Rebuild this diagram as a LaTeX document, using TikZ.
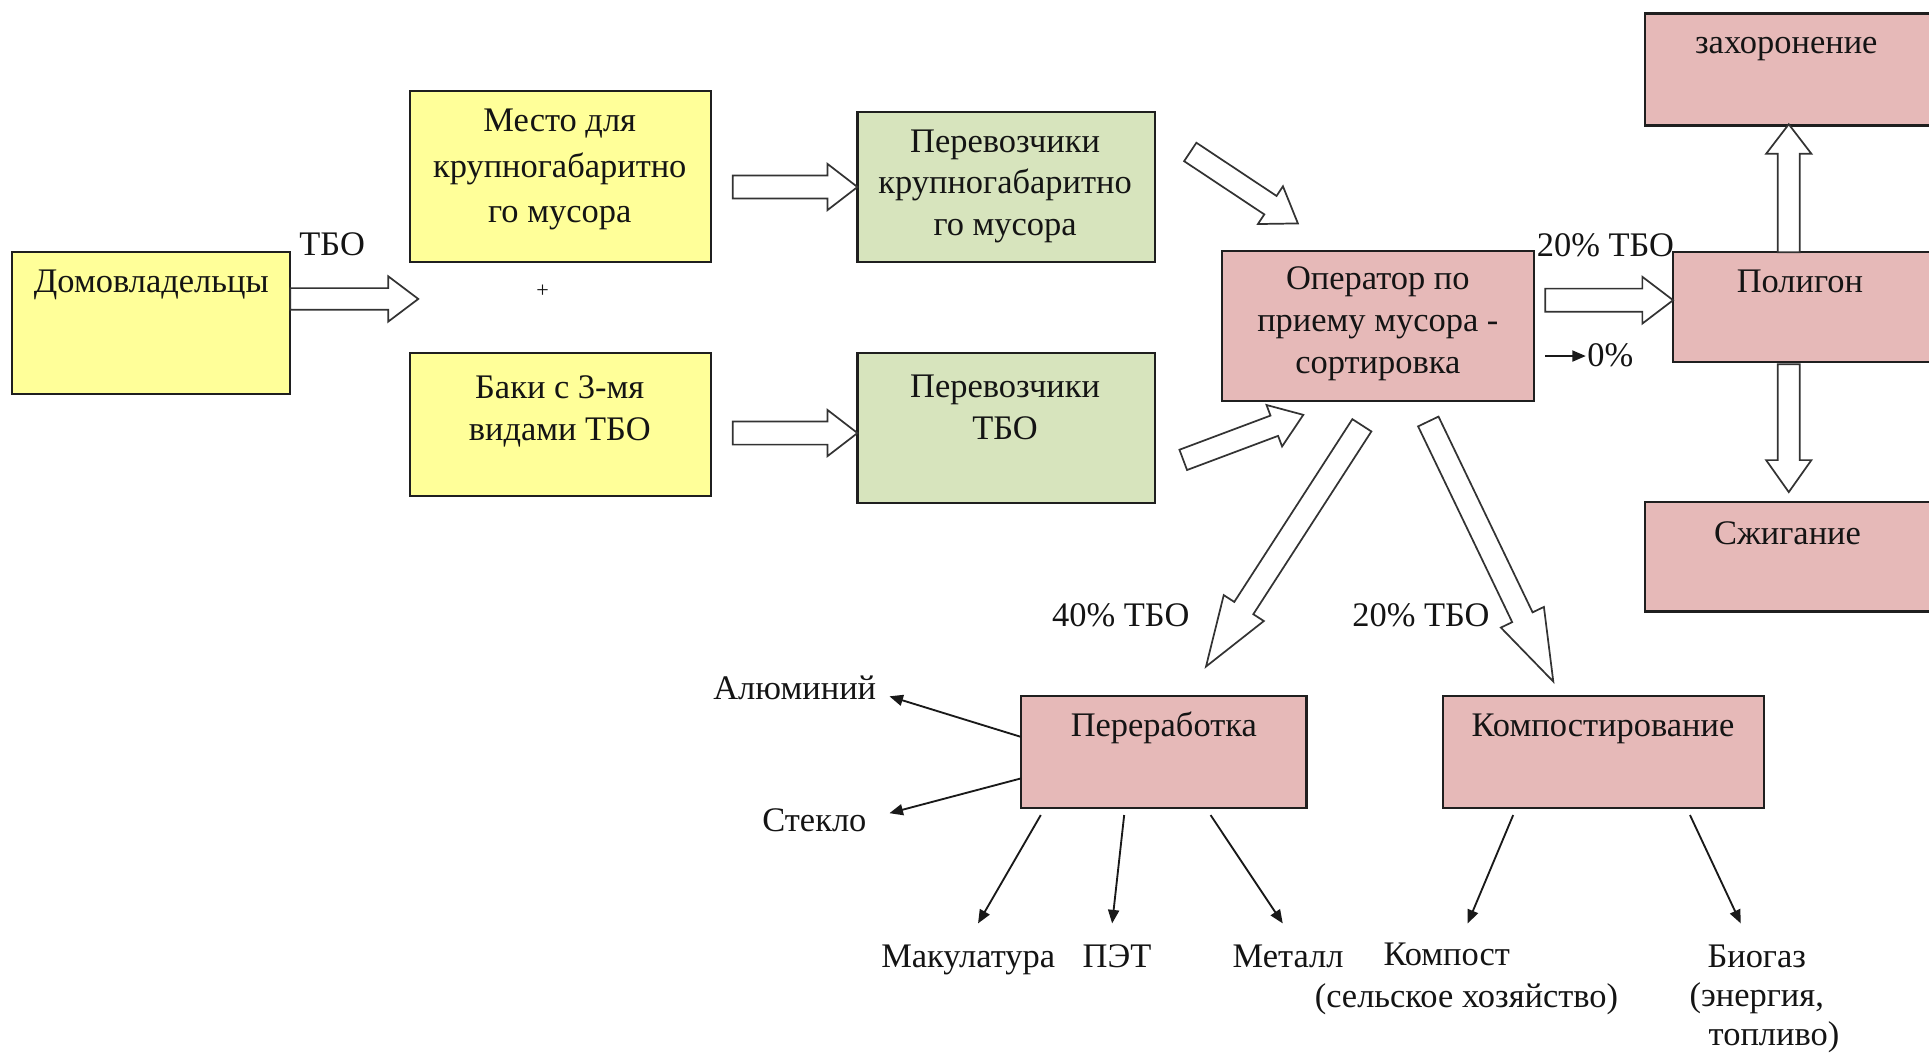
\documentclass[tikz,border=0pt]{standalone}
\usepackage{fontspec}
\setmainfont{Liberation Serif}
\usetikzlibrary{calc,arrows.meta}
\definecolor{yel}{HTML}{FFFF99}
\definecolor{grn}{HTML}{D7E4BD}
\definecolor{pnk}{HTML}{E6B9B8}
\newcommand\bx[6]{\node[boxst, fill=#6, minimum width={(#4-#2)*0.5pt}, minimum height={(#5-#3)*0.5pt}] (#1) at ({(#2+#4)/2},{(#3+#5)/2}) {};}
% tail, tip, half shaft width, half head width, head length
\newcommand\blockarrow[5]{%
  \coordinate (ba-h) at ($(#2)!#5!(#1)$);
  \draw[blockarr] ($(#1)!#3!90:(#2)$) -- ($(ba-h)!#3!90:(#2)$) -- ($(ba-h)!#4!90:(#2)$) -- (#2)
    -- ($(ba-h)!#4!-90:(#2)$) -- ($(ba-h)!#3!-90:(#2)$) -- ($(#1)!#3!-90:(#2)$) -- cycle;}
\begin{document}
\begin{tikzpicture}[x=0.5pt,y=-0.5pt,
  boxst/.style={draw=black!88, line width=0.9pt, inner sep=0pt, outer sep=0pt},
  txt/.style={font=\fontsize{14}{17}\selectfont, align=center, inner sep=0pt, text=black!92},
  one/.style={txt, text height=10pt, text depth=3.5pt},
  blockarr/.style={draw=black!80, fill=white, line width=0.7pt, line join=miter},
  thinarr/.style={draw=black!90, line width=0.75pt, -{Triangle[length=5.5pt,width=4.5pt]}}]
\useasboundingbox (0,0) rectangle (1568,858);
\clip (0,0) rectangle (1568,858);
\fill[white] (0,0) rectangle (1568,858);

% boxes
\bx{dom}{10}{205}{236}{320}{yel}
\bx{mesto}{333}{74}{578}{213}{yel}
\bx{baki}{333}{287}{578}{403}{yel}
\bx{perkg}{697}{91}{939}{213}{grn}
\bx{pertbo}{697}{287}{939}{409}{grn}
\bx{oper}{993}{204}{1247}{326}{pnk}
\bx{polig}{1360}{205}{1585}{294}{pnk}
\bx{zah}{1337}{11}{1585}{102}{pnk}
\bx{szh}{1337}{408}{1585}{497}{pnk}
\bx{pererab}{830}{566}{1062}{657}{pnk}
\bx{komp}{1173}{566}{1434}{657}{pnk}

% texts
\node[one] (t-dom) at (123,231) {Домовладельцы};
\node[one] (t-tbo1) at (270,201) {ТБО};
\node[txt, font=\fontsize{14}{18.5}\selectfont] (t-mesto) at (455,138) {Место для\\крупногабаритно\\го мусора};
\node[txt, font=\fontsize{9}{9}\selectfont] (t-plus) at (441,237) {+};
\node[txt] (t-baki) at (455,334.5) {Баки с 3-мя\\видами ТБО};
\node[txt] (t-perkg) at (817,151.5) {Перевозчики\\крупногабаритно\\го мусора};
\node[txt] (t-pertbo) at (817,331) {Перевозчики\\ТБО};
\node[txt] (t-oper) at (1120,263) {Оператор по\\приему мусора -\\сортировка};
\node[one] (t-20a) at (1305,202) {20\% ТБО};
\node[one] (t-0) at (1309,291) {0\%};
\node[one] (t-polig) at (1463,231) {Полигон};
\node[one] (t-zah) at (1452,37) {захоронение};
\node[one] (t-szh) at (1453,436) {Сжигание};
\node[one] (t-40) at (911,503) {40\% ТБО};
\node[one] (t-20b) at (1155,503) {20\% ТБО};
\node[one] (t-pererab) at (946,592) {Переработка};
\node[one] (t-komp) at (1303,592) {Компостирование};
\node[one] (t-alu) at (646,562) {Алюминий};
\node[one] (t-stek) at (662,669) {Стекло};
\node[one] (t-mak) at (787,780) {Макулатура};
\node[one] (t-pet) at (908,780) {ПЭТ};
\node[one] (t-met) at (1047,780) {Металл};
\node[txt] (t-kompost) at (1192,796) {Компост\kern16pt\\(сельское хозяйство)};
\node[txt, font=\fontsize{14}{16}\selectfont] (t-bio) at (1428,812) {Биогаз\\(энергия,\\\kern14pt топливо)};

% block arrow end points
\coordinate (a1t) at (236,243);   \coordinate (a1p) at (340,243);
\coordinate (a2t) at (595.6,152); \coordinate (a2p) at (697,152);
\coordinate (a3t) at (595.6,352); \coordinate (a3p) at (697,352);
\coordinate (a4t) at (967.5,123.5); \coordinate (a4p) at (1055,181.6);
\coordinate (a5t) at (961.8,373.8); \coordinate (a5p) at (1059.4,337.2);
\coordinate (a6t) at (1107,345.7); \coordinate (a6p) at (980.3,541.8);
\coordinate (a7t) at (1161,342.6); \coordinate (a7p) at (1262.6,554);
\coordinate (a8t) at (1256,244);  \coordinate (a8p) at (1360,244);
\coordinate (a9t) at (1454,205);  \coordinate (a9p) at (1454,101);
\coordinate (a10t) at (1454,296); \coordinate (a10p) at (1454,400);

\blockarrow{a1t}{a1p}{4.4pt}{9.2pt}{12.2pt}
\blockarrow{a2t}{a2p}{4.7pt}{9.4pt}{12.2pt}
\blockarrow{a3t}{a3p}{4.7pt}{9.4pt}{12.2pt}
\blockarrow{a4t}{a4p}{4.5pt}{9.2pt}{13.4pt}
\blockarrow{a5t}{a5p}{4.4pt}{9pt}{12.6pt}
\blockarrow{a6t}{a6p}{4.6pt}{9.7pt}{28.3pt}
\blockarrow{a7t}{a7p}{4.6pt}{9.7pt}{29pt}
\blockarrow{a8t}{a8p}{4.7pt}{9.5pt}{12.5pt}
\blockarrow{a9t}{a9p}{4.5pt}{9.2pt}{12pt}
\blockarrow{a10t}{a10p}{4.5pt}{9.2pt}{13pt}

% thin arrows
\coordinate (s0a) at (1256,289.4); \coordinate (s0b) at (1289,289.4);
\draw[thinarr] (s0a) -- (s0b);
\coordinate (alu0) at (830,599);   \coordinate (alu1) at (723,566);
\coordinate (st0) at (830,632.7);  \coordinate (st1) at (723,661);
\coordinate (mk0) at (846,662.5);  \coordinate (mk1) at (795,750.6);
\coordinate (pt0) at (913.8,662.5); \coordinate (pt1) at (904,750.6);
\coordinate (mt0) at (984,662.5);  \coordinate (mt1) at (1042.7,750.6);
\coordinate (kp0) at (1230,662.5); \coordinate (kp1) at (1193,750.6);
\coordinate (bg0) at (1373.7,662.5); \coordinate (bg1) at (1415,750.6);
\draw[thinarr] (alu0) -- (alu1);
\draw[thinarr] (st0) -- (st1);
\draw[thinarr] (mk0) -- (mk1);
\draw[thinarr] (pt0) -- (pt1);
\draw[thinarr] (mt0) -- (mt1);
\draw[thinarr] (kp0) -- (kp1);
\draw[thinarr] (bg0) -- (bg1);
\end{tikzpicture}
\end{document}
